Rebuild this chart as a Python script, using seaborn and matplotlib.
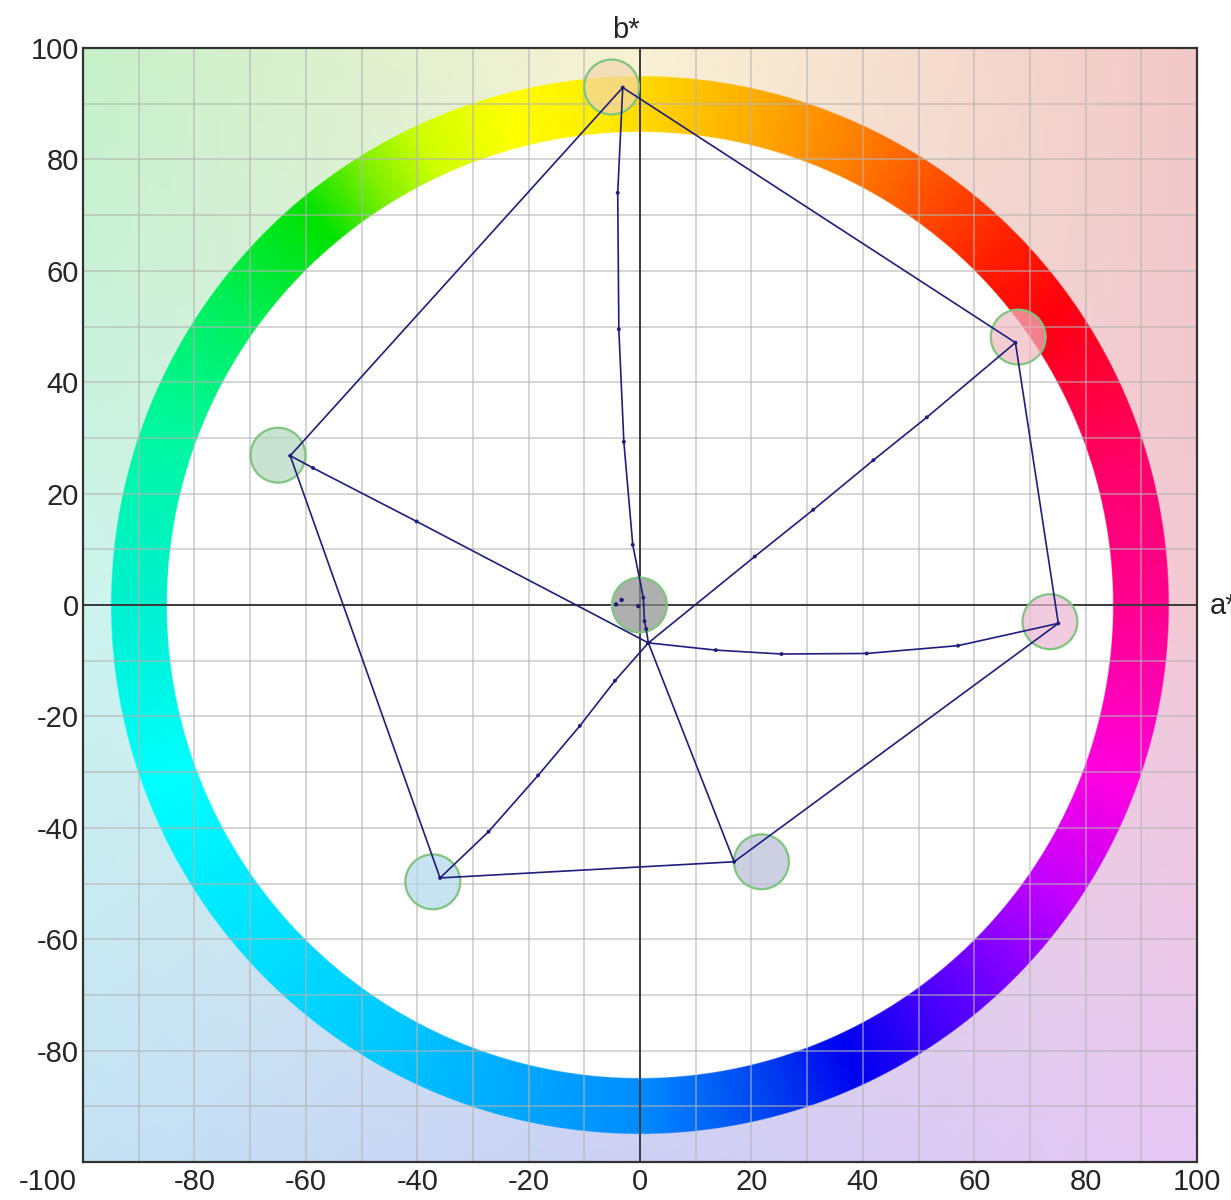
import numpy as np
import matplotlib
matplotlib.use('Agg')
import matplotlib.pyplot as plt
import matplotlib.transforms as mtrans
import seaborn as sns

# Measured patches (circle centres) and their display fill
patch_names = ['Yellow', 'Red', 'Magenta', 'Blue', 'Cyan', 'Green', 'Black']
patch_a = [-5.1, 67.9, 73.6, 21.8, -37.2, -65.0, -0.1]
patch_b = [93.0, 48.1, -3.0, -46.1, -49.7, 26.9, 0.0]
patch_fill = ['#f3d6ae', '#eeb8c0', '#ecb6d2', '#b8bcd6', '#b0d6ec', '#b4d6c0', '#8e8e8e']

# Gamut outline (Y -> R -> M -> B -> C -> G -> Y)
gamut_a = [-3.1, 67.4, 75.1, 16.9, -35.9, -62.8, -3.1]
gamut_b = [92.9, 47.1, -3.3, -46.1, -49.0, 26.8, 92.9]

# Ramps from the black point out to each primary/secondary
yellow_ramp_a = [1.5, 1.1, 0.8, 0.6, -1.3, -2.9, -3.8, -4.0, -3.1]
yellow_ramp_b = [-6.8, -4.3, -2.9, 1.3, 10.8, 29.3, 49.5, 74.0, 92.9]
red_ramp_a = [1.5, 20.6, 31.1, 41.9, 51.5, 67.4]
red_ramp_b = [-6.8, 8.7, 17.1, 26.0, 33.7, 47.1]
magenta_ramp_a = [1.5, 13.6, 25.4, 40.7, 57.1, 75.1]
magenta_ramp_b = [-6.8, -8.1, -8.8, -8.7, -7.3, -3.3]
blue_ramp_a = [1.5, 16.9]
blue_ramp_b = [-6.8, -46.1]
cyan_ramp_a = [1.5, -4.5, -10.8, -18.3, -27.2, -35.9]
cyan_ramp_b = [-6.8, -13.6, -21.7, -30.6, -40.7, -49.0]
green_ramp_a = [1.5, -40.1, -58.7, -62.8]
green_ramp_b = [-6.8, 15.0, 24.6, 26.8]
ramps = [(yellow_ramp_a, yellow_ramp_b), (red_ramp_a, red_ramp_b),
         (magenta_ramp_a, magenta_ramp_b), (blue_ramp_a, blue_ramp_b),
         (cyan_ramp_a, cyan_ramp_b), (green_ramp_a, green_ramp_b)]

# grey ramp dots near the origin
gray_a = [-4.3, -3.3, -0.3]
gray_b = [0.1, 0.9, -0.2]

# hue wheel colours by angle
hue_deg = [0, 15, 25, 35, 45, 55, 65, 75, 85, 95, 105, 115, 122, 130, 145, 160,
           180, 200, 240, 270, 285, 295, 310, 325, 340, 355, 360]
hue_rgb = [(255, 0, 144), (255, 0, 110), (255, 0, 64), (255, 0, 16), (255, 32, 0),
           (255, 80, 0), (255, 128, 0), (255, 165, 0), (255, 200, 0), (255, 238, 0),
           (255, 255, 0), (208, 255, 0), (128, 240, 0), (0, 226, 0), (0, 240, 96),
           (0, 248, 160), (0, 240, 208), (0, 255, 255), (0, 200, 255), (0, 140, 255),
           (0, 64, 240), (0, 0, 240), (96, 0, 255), (192, 0, 255), (255, 0, 224),
           (255, 0, 160), (255, 0, 144)]

# pale background colours at a 3x3 grid (rows top -> bottom)
bg_grid = [[(198, 240, 200), (250, 242, 212), (242, 200, 200)],
           [(205, 245, 238), (232, 232, 228), (243, 200, 212)],
           [(196, 226, 245), (205, 208, 245), (232, 200, 245)]]

ring_in, ring_out = 85, 95

sns.set_style('white')
plt.rcParams['font.family'] = ['Liberation Sans', 'DejaVu Sans']
plt.rcParams['axes.unicode_minus'] = False

fig = plt.figure(figsize=(12.31, 12.0), dpi=100)
ax = fig.add_axes([83 / 1231, 1 - 1162 / 1200, 1114 / 1231, 1114 / 1200])

# background + colour ring as one image
N = 1600
xs = np.linspace(-100, 100, N)
A, B = np.meshgrid(xs, xs)
r = np.hypot(A, B)
theta = np.degrees(np.arctan2(B, A)) % 360
hue = np.array(hue_rgb) / 255.0
ring = np.stack([np.interp(theta, hue_deg, hue[:, k]) for k in range(3)], axis=-1)

g = np.array(bg_grid)[::-1] / 255.0  # rows bottom -> top
u = (A + 100) / 100
v = (B + 100) / 100
iu = np.clip(np.floor(u).astype(int), 0, 1)
iv = np.clip(np.floor(v).astype(int), 0, 1)
fu = (u - iu)[..., None]
fv = (v - iv)[..., None]
bg = (g[iv, iu] * (1 - fu) * (1 - fv) + g[iv, iu + 1] * fu * (1 - fv)
      + g[iv + 1, iu] * (1 - fu) * fv + g[iv + 1, iu + 1] * fu * fv)

px = 200 / N
w_in = np.clip((ring_in - r) / px + 0.5, 0, 1)[..., None]
w_out = np.clip((r - ring_out) / px + 0.5, 0, 1)[..., None]
w_ring = np.clip(1 - w_in - w_out, 0, 1)
img = w_in * 1.0 + w_ring * ring + w_out * bg
ax.imshow(img, extent=(-100, 100, -100, 100), origin='lower', zorder=0)

# grid every 10
ax.set_xticks(range(-100, 101, 20))
ax.set_xticks(range(-90, 100, 20), minor=True)
ax.set_yticks(range(-80, 101, 20))
ax.set_yticks(range(-90, 100, 20), minor=True)
ax.grid(which='both', color='#b4b4b4', alpha=0.6, lw=1.3, zorder=1.5)
ax.axhline(0, color='#3a3a3a', lw=1.4, zorder=2)
ax.axvline(0, color='#3a3a3a', lw=1.4, zorder=2)

# patches
sns.scatterplot(x=patch_a, y=patch_b, hue=patch_names, palette=dict(zip(patch_names, patch_fill)),
                s=1560, alpha=0.7, edgecolor='none', legend=False, ax=ax, zorder=3)
sns.scatterplot(x=patch_a, y=patch_b, s=1560, facecolor='none', edgecolor='#80c480',
                linewidth=1.6, legend=False, ax=ax, zorder=3.1)

line_col = '#1e1e7c'
sns.lineplot(x=gamut_a, y=gamut_b, sort=False, estimator=None, color=line_col, lw=1.2, ax=ax, zorder=4)
for ra, rb in ramps:
    sns.lineplot(x=ra, y=rb, sort=False, estimator=None, color=line_col, lw=1.2, ax=ax, zorder=4)
    sns.scatterplot(x=ra, y=rb, s=8, color=line_col, edgecolor='none', legend=False, ax=ax, zorder=4.5)
sns.scatterplot(x=gray_a, y=gray_b, s=10, color=line_col, edgecolor='none', legend=False, ax=ax, zorder=4.5)

ax.set_xlim(-100, 100)
ax.set_ylim(-100, 100)
ax.set_aspect('auto')
ax.set_xlabel('')
ax.set_ylabel('')
ax.tick_params(which='both', length=0, labelsize=21)
ax.tick_params(axis='x', pad=4)
ax.tick_params(axis='y', pad=3)
for sp in ax.spines.values():
    sp.set_color('#333333')
    sp.set_linewidth(1.6)

fig.canvas.draw()
first = ax.get_xticklabels()[0]
first.set_horizontalalignment('right')
first.set_transform(first.get_transform() + mtrans.ScaledTranslation(-0.06, 0, fig.dpi_scale_trans))

ax.text(-2.6, 101.8, 'b*', ha='center', va='baseline', fontsize=21, clip_on=False)
ax.text(102.3, -1.6, 'a*', ha='left', va='baseline', fontsize=21, clip_on=False)

fig.savefig('out.png', dpi=100)
